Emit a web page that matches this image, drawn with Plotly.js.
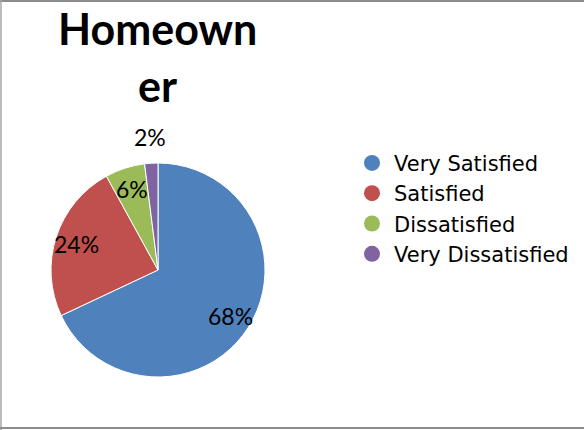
<!DOCTYPE html>
<html><head><meta charset="utf-8">
<script src="https://cdn.plot.ly/plotly-3.0.1.min.js"></script>
<style>html,body{margin:0;padding:0;background:#fff;}#chart{width:584px;height:430px;}</style>
</head><body><div id="chart"></div>
<script>
const categories = ["Very Satisfied", "Satisfied", "Dissatisfied", "Very Dissatisfied"];
const values = [68, 24, 6, 2];
const colors = ["#4F81BD", "#C0504D", "#9BBB59", "#8064A2"];
const titleLines = ["Homeown", "er"];
const labelRadius = [0.8, 0.8, 0.8, 1.25]; // fraction of pie radius for the % labels

const W = 584, H = 430;
const pieDomX = [51 / W, 265 / W], pieDomY = [53 / H, 267 / H];

const pie = {
  type: 'pie',
  labels: categories,
  values: values,
  sort: false,
  direction: 'clockwise',
  rotation: 0,
  marker: {colors: colors, line: {color: '#ffffff', width: 1}},
  textinfo: 'none',
  domain: {x: pieDomX, y: pieDomY},
  showlegend: false,
  hoverinfo: 'label+percent'
};

const legendTraces = categories.map((c, i) => ({
  type: 'scatter', mode: 'markers', x: [null], y: [null], name: c,
  marker: {symbol: 'circle', size: 16, color: colors[i]}, showlegend: true, hoverinfo: 'skip'
}));

// percentage labels placed from the data (mid-angle of each slice)
const total = values.reduce((a, b) => a + b, 0);
const cxP = (pieDomX[0] + pieDomX[1]) / 2, cyP = (pieDomY[0] + pieDomY[1]) / 2;
const rPx = (pieDomX[1] - pieDomX[0]) * W / 2;
let cum = 0;
const pctAnn = values.map((v, i) => {
  const mid = (cum + v / 2) / total; cum += v;
  const th = 2 * Math.PI * mid;
  const r = rPx * labelRadius[i];
  return {
    text: Math.round(v / total * 100) + '%', xref: 'paper', yref: 'paper',
    x: cxP + r * Math.sin(th) / W, y: cyP + r * Math.cos(th) / H,
    xanchor: 'center', yanchor: 'middle', showarrow: false,
    font: {family: 'Lato, sans-serif', size: 23, color: '#000000'}
  };
});

const titleTop = [28, 85];
const titleAnn = titleLines.map((t, i) => ({
  text: '<b>' + t + '</b>', xref: 'paper', yref: 'paper', x: 157 / W, y: 1 - titleTop[i] / H,
  xanchor: 'center', yanchor: 'middle', showarrow: false,
  font: {family: 'Lato, sans-serif', size: 43, color: '#000000'}
}));

const layout = {
  width: W, height: H,
  margin: {l: 0, r: 0, t: 0, b: 0},
  paper_bgcolor: '#ffffff', plot_bgcolor: '#ffffff',
  xaxis: {visible: false}, yaxis: {visible: false},
  showlegend: true,
  legend: {x: 350 / W, y: 0.668, xanchor: 'left', yanchor: 'top',
    font: {family: 'DejaVu Sans, sans-serif', size: 21, color: '#000000'},
    tracegroupgap: 0, itemwidth: 34, bgcolor: 'rgba(0,0,0,0)'},
  annotations: titleAnn.concat(pctAnn),
  shapes: [
    {type: 'line', xref: 'paper', yref: 'paper', x0: 0, x1: 1, y0: 1 - 1 / H, y1: 1 - 1 / H, line: {color: '#8c8c8c', width: 2}},
    {type: 'line', xref: 'paper', yref: 'paper', x0: 1 / W, x1: 1 / W, y0: 0, y1: 1, line: {color: '#a6a6a6', width: 1.5}},
    {type: 'line', xref: 'paper', yref: 'paper', x0: 0, x1: 1, y0: 2 / H, y1: 2 / H, line: {color: '#8c8c8c', width: 2}}
  ]
};

Plotly.newPlot('chart', [pie].concat(legendTraces), layout, {staticPlot: true, displayModeBar: false});
</script></body></html>
